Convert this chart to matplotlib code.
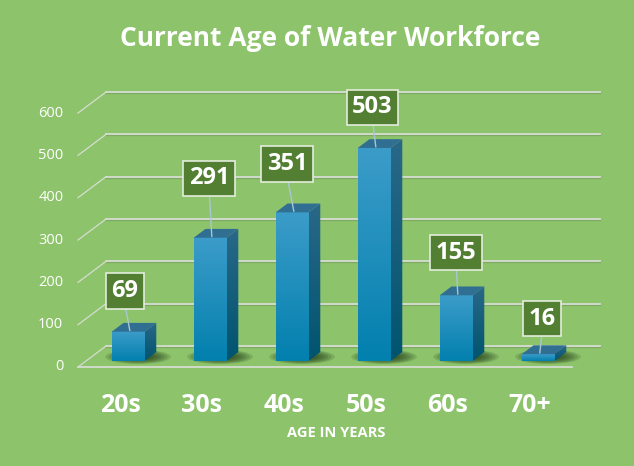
import numpy as np
import matplotlib.pyplot as plt
from matplotlib.patches import Polygon, Ellipse
from matplotlib.colors import LinearSegmentedColormap

# chart data
categories = ['20s', '30s', '40s', '50s', '60s', '70+']
workers = [69, 291, 351, 503, 155, 16]
y_ticks = [0, 100, 200, 300, 400, 500, 600]

# hand placed data label offsets (layout only)
label_lift = [96, 140, 114, 96, 101, 84]
label_shift = [-0.04, -0.01, -0.06, -0.02, 0.0, 0.05]

BG = '#8dc46b'
GRID = '#d6dcd2'
BOX = '#527f32'

plt.rcParams['font.family'] = ['Open Sans', 'DejaVu Sans']

fig = plt.figure(figsize=(6.34, 4.66), dpi=100, facecolor=BG)
ax = fig.add_axes([0, 0, 1, 1])
ax.set_facecolor(BG)
ax.axis('off')

# oblique depth offset in (category, value) units
DX = 28 / 82
DY = 21 / 0.4233


def proj(x, v, t):
    return x + t * DX, v + t * DY


x_lo, x_hi = -0.512, 5.512

# back wall gridlines, side wall lines and value labels
for v in y_ticks:
    bx0, by0 = proj(x_lo, v, 1)
    bx1, by1 = proj(x_hi, v, 1)
    ax.plot([bx0, bx1], [by0 - 2, by1 - 2], color='#6f8f5a', lw=1.0, alpha=0.5, zorder=1)
    ax.plot([bx0, bx1], [by0, by1], color=GRID, lw=1.3, zorder=1)
    fx, fy = proj(x_lo, v, 0)
    ax.plot([fx, bx0], [fy, by0], color=GRID, lw=0.9, zorder=1)
    ax.text(x_lo - 0.18, v, str(v), ha='right', va='center', color='white',
            fontsize=10.5, zorder=1)

# front edge of floor
fx0, fy0 = proj(x_lo, 0, 0)
fx1, fy1 = proj(x_hi, 0, 0)
ax.plot([fx0, fx1], [fy0, fy1], color=GRID, lw=1.3, zorder=1)

front_cmap = LinearSegmentedColormap.from_list('front', ['#0280ae', '#3c9cc9'])
side_cmap = LinearSegmentedColormap.from_list('side', ['#00546f', '#2a6888'])
grad = np.linspace(0, 1, 256).reshape(-1, 1)

hw = 0.2
t0, t1 = 0.29, 0.71

for i, v in enumerate(workers):
    # soft shadow on the floor, heavier behind and to the right
    for k in range(8):
        s = 1 - k * 0.1
        ax.add_patch(Ellipse((i + 0.22, 24), 0.8 * s, 34 * s, color='#1c3012',
                             alpha=0.16, lw=0, zorder=2))

    # front face
    x0, y0 = proj(i - hw, 0, t0)
    x1, y1 = proj(i + hw, v, t0)
    ax.imshow(grad, cmap=front_cmap, origin='lower', extent=[x0, x1, y0, y1],
              aspect='auto', interpolation='bicubic', zorder=3)

    # right side face
    side = [proj(i + hw, 0, t0), proj(i + hw, 0, t1), proj(i + hw, v, t1), proj(i + hw, v, t0)]
    sp = Polygon(side, closed=True, fc='none', ec='none', zorder=3)
    ax.add_patch(sp)
    xs = [p[0] for p in side]
    ys = [p[1] for p in side]
    im = ax.imshow(grad, cmap=side_cmap, origin='lower',
                   extent=[min(xs), max(xs), min(ys), max(ys)],
                   aspect='auto', interpolation='bicubic', zorder=3)
    im.set_clip_path(sp)

    # top face
    top = [proj(i - hw, v, t0), proj(i + hw, v, t0), proj(i + hw, v, t1), proj(i - hw, v, t1)]
    ax.add_patch(Polygon(top, closed=True, fc='#316f92', ec='none', zorder=3))

    # data label with leader line
    lx, ly = proj(i + label_shift[i], v + label_lift[i], t0)
    tx, ty = proj(i, v, t0 + 0.06)
    ax.plot([lx, tx], [ly - 30, ty], color='#a9c6d3', lw=1.0, zorder=4)
    ax.text(lx, ly, str(v), ha='center', va='center', color='white',
            fontsize=17, fontweight='bold', zorder=5,
            bbox=dict(boxstyle='square,pad=0.24', fc=BOX, ec='#e4ecdc', lw=1.2))

    # category label
    cx, cy = proj(i, -90, 0)
    ax.text(cx, cy, categories[i], ha='center', va='center', color='white',
            fontsize=18, fontweight='bold')

ax.set_xlim(-120 / 82, (634 - 120) / 82)
ax.set_ylim(-99 / 0.4233, 367 / 0.4233)

fig.text(330 / 634, 1 - 38 / 466, 'Current Age of Water Workforce', ha='center',
         va='center', color='white', fontsize=19, fontweight='bold')
fig.text(336 / 634, 1 - 433 / 466, 'AGE IN YEARS', ha='center', va='center',
         color='white', fontsize=10.5, fontweight='bold')

fig.savefig('out.png', dpi=100, facecolor=BG)
